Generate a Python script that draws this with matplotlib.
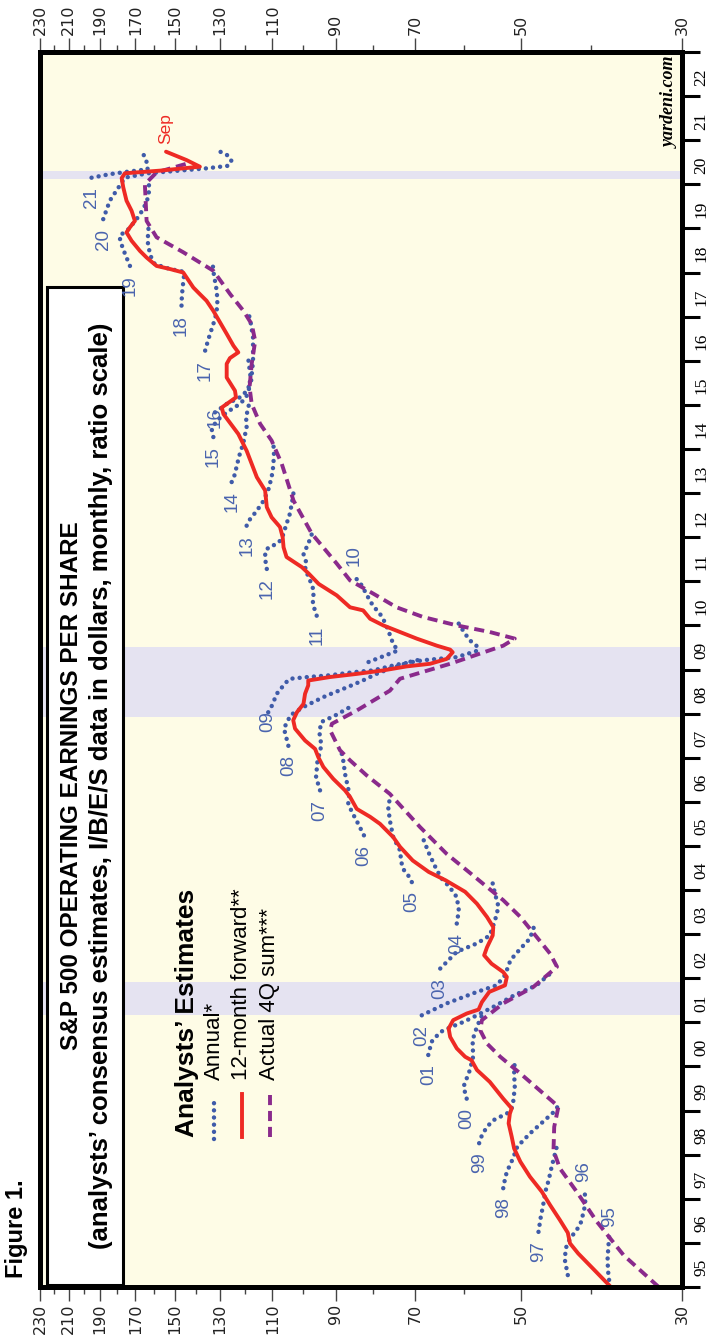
import matplotlib
matplotlib.use('Agg')
import matplotlib.pyplot as plt
from matplotlib.patches import Rectangle
from matplotlib.lines import Line2D
from matplotlib.ticker import FixedLocator, FixedFormatter, NullFormatter

# ---- data (decimal year, dollars) ----
fwd_t = [1995.0, 1995.40, 1995.76, 1995.99, 1996.23, 1996.52, 1996.86, 1997.16, 1997.50, 1997.84,
         1998.14, 1998.41, 1998.71, 1998.93, 1999.05, 1999.27, 1999.65, 1999.92, 2000.14, 2000.22,
         2000.41, 2000.67, 2000.86, 2001.05, 2001.20, 2001.29, 2001.46, 2001.69, 2001.84, 2002.03,
         2002.14, 2002.33, 2002.52, 2002.70, 2002.97, 2003.16, 2003.39, 2003.69, 2003.96, 2004.22,
         2004.41, 2004.67, 2004.98, 2005.20, 2005.50, 2005.66, 2005.84, 2006.11, 2006.26, 2006.52,
         2006.79, 2007.01, 2007.20, 2007.39, 2007.66, 2007.85, 2008.03, 2008.22, 2008.45, 2008.64,
         2008.75, 2008.83, 2008.90, 2008.98, 2009.07, 2009.13, 2009.24, 2009.39, 2009.45, 2009.54,
         2009.70, 2009.85, 2010.00, 2010.15, 2010.34, 2010.41, 2010.68, 2010.94, 2011.17, 2011.32,
         2011.55, 2011.77, 2012.00, 2012.23, 2012.45, 2012.68, 2013.06, 2013.36, 2013.96, 2014.34,
         2014.79, 2014.94, 2015.17, 2015.32, 2015.62, 2015.93, 2016.06, 2016.19, 2016.34, 2016.61,
         2017.13, 2017.36, 2017.51, 2017.66, 2018.00, 2018.08, 2018.15, 2018.34, 2018.49, 2018.72,
         2018.91, 2019.02, 2019.17, 2019.40, 2019.63, 2019.93, 2020.14, 2020.25, 2020.31, 2020.40,
         2020.55, 2020.74]
fwd_v = [37.6, 39.7, 41.7, 42.8, 43.1, 44.2, 45.6, 46.8, 48.6, 50.1,
         51.1, 51.5, 52.0, 51.8, 51.5, 52.9, 55.2, 57.5, 58.5, 59.7,
         61.3, 62.6, 62.9, 62.0, 59.4, 57.2, 56.6, 55.3, 52.6, 52.3,
         52.9, 54.9, 56.2, 55.7, 54.7, 54.6, 55.7, 57.5, 59.7, 63.5,
         67.0, 70.5, 73.4, 75.0, 78.2, 80.7, 84.2, 86.0, 87.4, 90.7,
         93.6, 95.1, 96.1, 99.2, 102.4, 103.0, 101.8, 99.7, 99.2, 98.2,
         98.2, 91.6, 84.2, 77.4, 71.9, 66.7, 63.3, 62.1, 62.6, 65.3,
         69.6, 73.4, 77.4, 80.7, 82.5, 86.0, 89.7, 95.0, 98.0, 100.2,
         105.2, 106.2, 106.5, 107.4, 110.3, 112.0, 112.6, 115.6, 119.4, 122.6,
         128.5, 129.2, 123.5, 123.9, 127.2, 127.2, 125.9, 122.6, 124.5, 127.2,
         132.7, 135.6, 138.5, 141.4, 146.0, 152.3, 158.9, 164.0, 167.5, 172.0,
         174.8, 173.0, 170.2, 172.0, 174.8, 176.6, 177.5, 175.7, 157.2, 138.5,
         144.5, 154.2]

act_t = [1995.0, 1995.72, 1996.48, 1997.16, 1997.69, 1998.10, 1998.63, 1999.09, 1999.39, 1999.84,
         2000.22, 2000.52, 2000.82, 2001.05, 2001.43, 2001.80, 2002.26, 2002.56, 2002.94, 2003.39,
         2003.77, 2004.07, 2004.37, 2004.82, 2005.43, 2006.18, 2006.60, 2006.94, 2007.17, 2007.62,
         2007.77, 2008.07, 2008.52, 2008.79, 2009.13, 2009.54, 2009.70, 2009.85, 2010.00, 2010.19,
         2010.41, 2010.72, 2011.02, 2011.40, 2012.08, 2012.83, 2013.66, 2014.19, 2014.57, 2015.02,
         2015.40, 2015.93, 2016.45, 2016.83, 2017.13, 2017.51, 2018.04, 2018.46, 2018.80, 2019.17,
         2020.00, 2020.27, 2020.49]
act_v = [32.3, 36.1, 39.3, 41.9, 44.2, 45.1, 45.0, 44.4, 46.6, 50.1,
         53.4, 55.7, 56.9, 56.6, 52.9, 48.1, 44.6, 45.6, 47.6, 50.1,
         52.9, 55.7, 58.6, 63.3, 68.9, 75.8, 81.6, 86.0, 88.8, 91.6,
         91.1, 84.2, 75.8, 73.4, 62.6, 52.9, 51.0, 55.2, 61.3, 68.2,
         74.2, 79.9, 86.0, 89.7, 97.1, 102.9, 106.8, 110.3, 114.4, 117.5,
         118.3, 117.5, 116.2, 117.5, 120.6, 125.8, 132.7, 146.0, 158.9, 164.0,
         164.9, 158.9, 142.9]

# analysts' annual estimates, one pair of lists per calendar year
e95_t = [1995.0, 1995.3, 1995.6, 1995.9, 1996.14]
e95_v = [37.7, 37.9, 38.0, 37.9, 37.8]
e96_t = [1995.27, 1995.61, 1995.87, 1996.10, 1996.29, 1996.48, 1996.78, 1997.05, 1997.16]
e96_v = [43.1, 43.5, 43.4, 42.8, 41.9, 41.3, 40.9, 40.7, 41.0]
e97_t = [1996.25, 1996.55, 1996.86, 1997.15, 1997.42, 1997.70, 1997.95, 1998.20]
e97_v = [47.3, 47.0, 46.6, 46.3, 45.8, 45.4, 45.0, 44.6]
e98_t = [1997.24, 1997.45, 1997.61, 1997.91, 1998.18, 1998.48, 1998.75, 1998.99, 1999.12]
e98_v = [52.9, 52.6, 52.3, 51.3, 50.6, 48.6, 46.6, 44.9, 44.4]
e99_t = [1998.26, 1998.44, 1998.63, 1998.78, 1998.86, 1998.93, 1999.05, 1999.24, 1999.54, 1999.84, 2000.14]
e99_v = [57.1, 56.6, 55.7, 54.6, 53.4, 52.3, 51.5, 51.2, 51.0, 51.1, 51.0]
e00_t = [1999.27, 1999.54, 1999.92, 2000.22, 2000.60, 2000.90, 2001.16]
e00_v = [59.4, 60.0, 58.8, 58.2, 58.3, 57.5, 56.6]
e01_t = [2000.26, 2000.56, 2000.78, 2000.90, 2001.01, 2001.16, 2001.35, 2001.62, 2001.84, 2002.14]
e01_v = [67.1, 66.4, 64.6, 62.3, 60.0, 57.5, 54.6, 51.0, 47.6, 45.3]
e02_t = [2001.16, 2001.43, 2001.69, 2001.84, 2002.07, 2002.41, 2002.67, 2002.90, 2003.16]
e02_v = [68.5, 63.3, 57.5, 54.0, 52.6, 51.7, 50.1, 48.6, 48.0]
e03_t = [2002.22, 2002.60, 2002.79, 2002.97, 2003.31, 2003.62, 2003.92, 2004.15]
e03_v = [64.6, 61.3, 57.5, 55.2, 54.3, 53.7, 54.3, 54.7]
e04_t = [2003.24, 2003.54, 2003.84, 2004.08, 2004.26, 2004.45, 2004.82, 2005.16]
e04_v = [61.3, 60.9, 61.3, 62.8, 64.3, 65.3, 66.9, 68.2]
e05_t = [2004.18, 2004.33, 2004.48, 2004.64, 2004.90, 2005.20, 2005.58, 2005.88, 2006.07]
e05_v = [70.7, 71.5, 72.7, 73.1, 73.4, 75.0, 75.8, 76.2, 75.8]
e06_t = [2005.24, 2005.50, 2005.77, 2005.96, 2006.18, 2006.45, 2006.64, 2006.90, 2007.09]
e06_v = [82.3, 83.8, 85.5, 86.5, 86.2, 86.9, 87.4, 87.8, 88.3]
e07_t = [2006.26, 2006.56, 2006.90, 2007.28, 2007.58, 2007.81, 2007.96, 2008.15]
e07_v = [94.6, 95.8, 95.4, 94.2, 94.8, 94.2, 90.1, 86.0]
e08_t = [2007.27, 2007.49, 2007.67, 2007.81, 2007.96, 2008.15, 2008.30, 2008.41, 2008.53, 2008.64,
         2008.75, 2008.90, 2009.02, 2009.09, 2009.17, 2009.24]
e08_v = [104.6, 105.4, 106.1, 104.9, 104.0, 99.7, 95.6, 92.6, 88.8, 85.6,
         82.6, 79.1, 75.8, 73.4, 71.3, 68.2]
e09_t = [2008.03, 2008.18, 2008.45, 2008.70, 2008.79, 2008.83, 2008.87, 2008.94, 2008.98, 2009.11,
         2009.21, 2009.28, 2009.43, 2009.54, 2009.66, 2009.81, 2010.11]
e09_v = [111.5, 110.2, 108.5, 105.5, 104.0, 98.2, 91.6, 85.0, 79.9, 74.2,
         68.2, 61.3, 57.3, 57.6, 58.8, 59.7, 61.3]
e10_t = [2009.17, 2009.43, 2009.58, 2009.89, 2010.07, 2010.26, 2010.45, 2010.68, 2010.90, 2011.13]
e10_v = [81.1, 73.9, 75.0, 76.2, 77.0, 78.2, 80.0, 81.5, 82.8, 85.0]
e11_t = [2010.22, 2010.49, 2010.79, 2011.05, 2011.28, 2011.40, 2011.62, 2011.85, 2012.07]
e11_v = [95.6, 96.8, 96.5, 97.8, 99.2, 98.7, 99.7, 98.2, 97.1]
e12_t = [2011.28, 2011.47, 2011.66, 2011.77, 2011.85, 2011.96, 2012.07, 2012.30, 2012.53, 2012.75, 2012.98, 2013.13]
e12_v = [112.0, 112.5, 112.6, 111.4, 108.4, 106.8, 106.3, 105.2, 104.1, 103.5, 102.9, 103.5]
e13_t = [2012.26, 2012.41, 2012.60, 2012.83, 2013.09, 2013.36, 2013.62, 2013.89, 2014.15]
e13_v = [119.4, 118.1, 115.6, 113.1, 111.4, 110.3, 109.7, 109.5, 109.7]
e14_t = [2013.25, 2013.43, 2013.62, 2013.89, 2014.12, 2014.30, 2014.49, 2014.72, 2014.94, 2015.13]
e14_v = [125.2, 123.9, 123.2, 122.0, 120.7, 120.1, 119.4, 119.6, 118.8, 118.0]
e15_t = [2014.27, 2014.45, 2014.64, 2014.83, 2015.02, 2015.17, 2015.40, 2015.70, 2015.93, 2016.15]
e15_v = [132.7, 133.4, 131.3, 127.2, 122.0, 119.6, 118.3, 118.0, 118.6, 118.9]
e16_t = [2014.83, 2015.02, 2015.17, 2015.32, 2015.55, 2016.00, 2016.53, 2016.91, 2017.13]
e16_v = [132.0, 127.2, 122.0, 119.2, 117.7, 117.0, 117.0, 118.0, 118.9]
e17_t = [2016.23, 2016.49, 2016.72, 2016.95, 2017.13, 2017.36, 2017.59, 2017.96, 2018.15]
e17_v = [136.2, 134.8, 133.4, 132.0, 131.3, 131.0, 131.3, 132.5, 132.9]
e18_t = [2017.25, 2017.40, 2017.66, 2017.89, 2018.02, 2018.08, 2018.19, 2018.38, 2018.64, 2018.87, 2019.10]
e18_v = [146.8, 146.7, 146.3, 145.7, 146.0, 152.3, 159.8, 162.0, 163.3, 163.3, 162.8]
e19_t = [2018.15, 2018.42, 2018.68, 2018.83, 2018.98, 2019.21, 2019.44, 2019.66, 2019.89, 2020.08]
e19_v = [172.9, 175.6, 178.0, 178.8, 173.8, 169.3, 165.7, 163.6, 162.5, 163.1]
e20_t = [2019.21, 2019.63, 2019.97, 2020.15, 2020.25, 2020.31, 2020.36, 2020.42, 2020.53, 2020.65, 2020.76]
e20_v = [188.2, 184.3, 178.6, 175.8, 163.5, 148.0, 136.0, 126.6, 125.3, 126.6, 130.6]
e21_t = [2020.15, 2020.23, 2020.29, 2020.34, 2020.42, 2020.57, 2020.68, 2020.76]
e21_v = [195.3, 184.3, 173.5, 163.5, 163.5, 164.4, 165.7, 166.6]

recessions = [(2001.17, 2001.92), (2007.92, 2009.50), (2020.13, 2020.31)]

val_major = [30, 50, 70, 90, 110, 130, 150, 170, 190, 210, 230]
val_minor = [40, 60, 80, 100, 120, 140, 160, 180, 200, 220]
year_labels = ['95', '96', '97', '98', '99', '00', '01', '02', '03', '04', '05', '06', '07', '08',
               '09', '10', '11', '12', '13', '14', '15', '16', '17', '18', '19', '20', '21', '22']

annual = [('95', e95_t, e95_v), ('96', e96_t, e96_v), ('97', e97_t, e97_v), ('98', e98_t, e98_v),
          ('99', e99_t, e99_v), ('00', e00_t, e00_v), ('01', e01_t, e01_v), ('02', e02_t, e02_v),
          ('03', e03_t, e03_v), ('04', e04_t, e04_v), ('05', e05_t, e05_v), ('06', e06_t, e06_v),
          ('07', e07_t, e07_v), ('08', e08_t, e08_v), ('09', e09_t, e09_v), ('10', e10_t, e10_v),
          ('11', e11_t, e11_v), ('12', e12_t, e12_v), ('13', e13_t, e13_v), ('14', e14_t, e14_v),
          ('15', e15_t, e15_v), ('16', e16_t, e16_v), ('17', e17_t, e17_v), ('18', e18_t, e18_v),
          ('19', e19_t, e19_v), ('20', e20_t, e20_v), ('21', e21_t, e21_v)]

# label placed before the first point, except these (label after last point)
label_at_end = ['95', '96', '10']
label_shift = {'09': 0.22, '16': 0.12}

BLUE = '#3F5BA9'
BLUE_TXT = '#4A64AE'
RED = '#EE2A24'
PURPLE = '#8A2A8C'
DOTS = (0, (0.01, 1.6))

W, H = 707, 1342
fig = plt.figure(figsize=(W / 100, H / 100), dpi=100)
fig.patch.set_facecolor('white')


def fx(x):
    return x / W


def fy(y):
    return 1 - y / H


ax = fig.add_axes([fx(40), fy(1287), (682 - 40) / W, (1287 - 52) / H])
ax.set_facecolor('#FEFCE6')
ax.set_xscale('log')
ax.set_xlim(230, 30)
ax.set_ylim(1995, 2023)

for a, b in recessions:
    ax.axhspan(a, b, color='#E5E3F1', lw=0, zorder=0.5)

for lab, t, v in annual:
    ax.plot(v, t, color=BLUE, lw=3.2, linestyle=DOTS, dash_capstyle='round', zorder=2)
    if lab in label_at_end:
        lt, lv = t[-1] + 0.45, v[-1]
    else:
        lt, lv = t[0] - label_shift.get(lab, 0.45), v[0]
    ax.text(lv, lt, lab, color=BLUE_TXT, fontsize=13.5, rotation=90, ha='center', va='center',
            family='Liberation Sans', zorder=6)

ax.plot(act_v, act_t, color=PURPLE, lw=2.8, linestyle=(0, (2.6, 1.5)), zorder=3)
ax.plot(fwd_v, fwd_t, color=RED, lw=2.8, solid_joinstyle='round', solid_capstyle='round', zorder=4)
ax.text(fwd_v[-1], fwd_t[-1] + 0.17, 'Sep', color=RED, fontsize=12.5, rotation=90,
        ha='center', va='bottom', family='Liberation Sans', zorder=6)

# value axis (top and bottom)
ax.xaxis.set_major_locator(FixedLocator(val_major))
ax.xaxis.set_major_formatter(FixedFormatter([str(v) for v in val_major]))
ax.xaxis.set_minor_locator(FixedLocator(val_minor))
ax.xaxis.set_minor_formatter(NullFormatter())
ax.tick_params(axis='x', which='both', top=True, bottom=True, labeltop=True, labelbottom=True,
               direction='out', color='#444444')
ax.tick_params(axis='x', which='major', length=10, width=1.0, labelsize=11.5, labelrotation=90,
               pad=2, labelcolor='#222222')
ax.tick_params(axis='x', which='minor', length=5, width=1.0)

# time axis (right)
ax.yaxis.set_major_locator(FixedLocator(list(range(1995, 2024))))
ax.yaxis.set_major_formatter(NullFormatter())
ax.yaxis.set_minor_locator(FixedLocator([y + 0.5 for y in range(1995, 2023)]))
ax.yaxis.set_minor_formatter(FixedFormatter(year_labels))
ax.tick_params(axis='y', which='both', left=False, right=True, labelleft=False, labelright=True)
ax.tick_params(axis='y', which='major', length=13, width=2.2, direction='out')
ax.tick_params(axis='y', which='minor', length=0, labelsize=12.5, labelrotation=90, pad=8)
for lb in ax.get_yticklabels(minor=True):
    lb.set_fontfamily('Liberation Serif')

for s in ax.spines.values():
    s.set_linewidth(3.6)
    s.set_color('black')
    s.set_zorder(10)

# title box
ax.add_patch(Rectangle((6.7 / 642, 2 / 1235), 76.6 / 642, 998 / 1235, transform=ax.transAxes,
                       facecolor='white', edgecolor='black', lw=2.2, zorder=5))
fig.text(fx(72), fy(786), 'S&P 500 OPERATING EARNINGS PER SHARE', rotation=90, ha='center',
         va='center', fontsize=17.5, fontweight='bold', family='Liberation Sans')
fig.text(fx(101.5), fy(786),
         '(analysts\u2019 consensus estimates, I/B/E/S data in dollars, monthly, ratio scale)',
         rotation=90, ha='center', va='center', fontsize=18.5, fontweight='bold',
         family='Liberation Sans')
fig.text(fx(17), fy(1278), 'Figure 1.', rotation=90, rotation_mode='anchor', ha='left',
         va='center', fontsize=17, fontweight='bold', family='Liberation Sans')

# legend
fig.text(fx(187), fy(1137), 'Analysts\u2019 Estimates', rotation=90, rotation_mode='anchor',
         ha='left', va='center', fontsize=19, fontweight='bold', family='Liberation Sans')
fig.add_artist(Line2D([fx(214), fx(214)], [fy(1139), fy(1103)], color=BLUE, lw=3.2,
                      linestyle=DOTS, dash_capstyle='round'))
fig.add_artist(Line2D([fx(241.5), fx(241.5)], [fy(1137), fy(1094)], color=RED, lw=2.8))
fig.add_artist(Line2D([fx(270), fx(270)], [fy(1137), fy(1095)], color=PURPLE, lw=2.8,
                      linestyle=(0, (2.6, 1.5))))
for xx, txt in [(214, 'Annual*'), (241.5, '12-month forward**'), (270, 'Actual 4Q sum***')]:
    fig.text(fx(xx), fy(1080), txt, rotation=90, rotation_mode='anchor', ha='left', va='center',
             fontsize=16, family='Liberation Sans')

fig.text(fx(670), fy(57), 'yardeni.com', rotation=90, rotation_mode='anchor', ha='right',
         va='center', fontsize=13, fontweight='bold', fontstyle='italic', family='Liberation Serif')

fig.savefig('out.png', dpi=100)
